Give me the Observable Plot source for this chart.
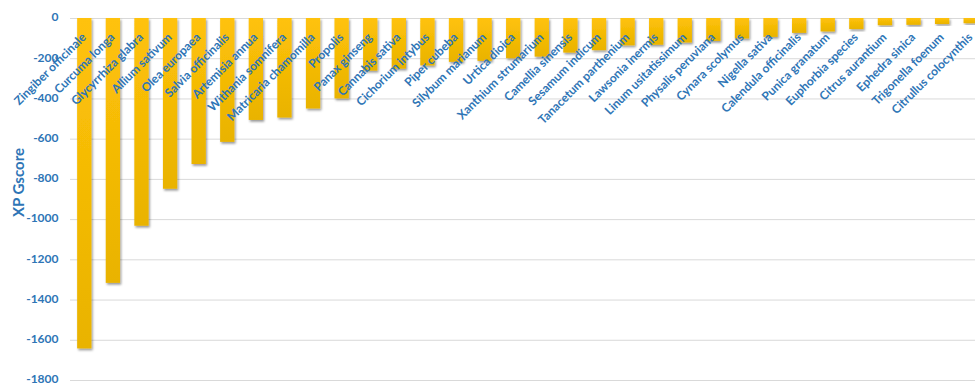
<!DOCTYPE html>
<html><head><meta charset="utf-8">
<script src="https://cdn.jsdelivr.net/npm/d3@7"></script>
<script src="https://cdn.jsdelivr.net/npm/@observablehq/plot@0.6"></script>
<style>body{margin:0;background:#fff;overflow:hidden}</style>
</head><body><div id="chart"></div>
<script>
const categories = ["Zingiber officinale","Curcuma longa","Glycyrrhiza glabra","Allium sativum","Olea europaea","Salvia officinalis","Artemisia annua","Withania somnifera","Matricaria chamomilla","Propolis","Panax ginseng","Cannabis sativa","Cichorium intybus","Piper cubeba","Silybum marianum","Urtica dioica","Xanthium strumarium","Camellia sinensis","Sesamum indicum","Tanacetum parthenium","Lawsonia inermis","Linum usitatissimum","Physalis peruviana","Cynara scolymus","Nigella sativa","Calendula officinalis","Punica granatum","Euphorbia species","Citrus aurantium","Ephedra sinica","Trigonella foenum","Citrullus colocynthis"];
const values = [-1643,-1317,-1033,-849,-726,-616,-507,-495,-450,-400,-262,-252,-236,-218,-213,-200,-192,-172,-160,-136,-133,-122,-114,-102,-94,-74,-67,-55,-36,-34,-30,-26];
const yTicks = [0,-200,-400,-600,-800,-1000,-1200,-1400,-1600,-1800];
const yTitle = "XP Gscore";

const data = categories.map((c, i) => ({name: c, value: values[i]}));
const blue = "#2E75B6";
const font = "Lato, 'Open Sans', sans-serif";

const chart = Plot.plot({
  width: 975, height: 386,
  marginTop: 18, marginBottom: 6, marginLeft: 70, marginRight: 0,
  style: {fontFamily: font, background: "#fff", overflow: "hidden"},
  x: {domain: categories, range: [70, 985], paddingInner: 0.5, paddingOuter: 0.25, round: false, axis: null},
  y: {domain: [-1800, 0], axis: null},
  marks: [
    Plot.ruleY(yTicks, {stroke: "#d9d9d9", strokeWidth: 1}),
    Plot.axisY({ticks: yTicks, tickSize: 0, tickPadding: 12, dy: -1, tickFormat: d => String(d), fontWeight: "bold", fontSize: 12, color: blue, label: null}),
    Plot.barY(data, {x: "name", y: "value", fill: "url(#barGrad)"}),
    Plot.text(data, {x: "name", text: "name", frameAnchor: "top", rotate: -45, textAnchor: "end", dx: -4, dy: 13.5, fill: blue, fontWeight: "bold", fontSize: 12}),
    Plot.text([yTitle], {frameAnchor: "left", textAnchor: "middle", rotate: -90, dx: -51, dy: -17, fill: blue, fontWeight: "bold", fontSize: 15})
  ]
});

const svg = d3.select(chart);
const defs = svg.insert("defs", ":first-child");
const g = defs.append("linearGradient").attr("id", "barGrad").attr("x1", 0).attr("y1", 0).attr("x2", 0).attr("y2", 1);
g.append("stop").attr("offset", "0%").attr("stop-color", "#FFC20A");
g.append("stop").attr("offset", "100%").attr("stop-color", "#E9B300");
const f = defs.append("filter").attr("id", "shadow").attr("x", "-50%").attr("y", "-10%").attr("width", "200%").attr("height", "130%");
f.append("feDropShadow").attr("dx", 1.2).attr("dy", 1.8).attr("stdDeviation", 1.1).attr("flood-color", "#000").attr("flood-opacity", 0.4);
svg.selectAll("g[aria-label='bar'] rect").attr("filter", "url(#shadow)");

document.getElementById("chart").appendChild(chart);
</script>
</body></html>
